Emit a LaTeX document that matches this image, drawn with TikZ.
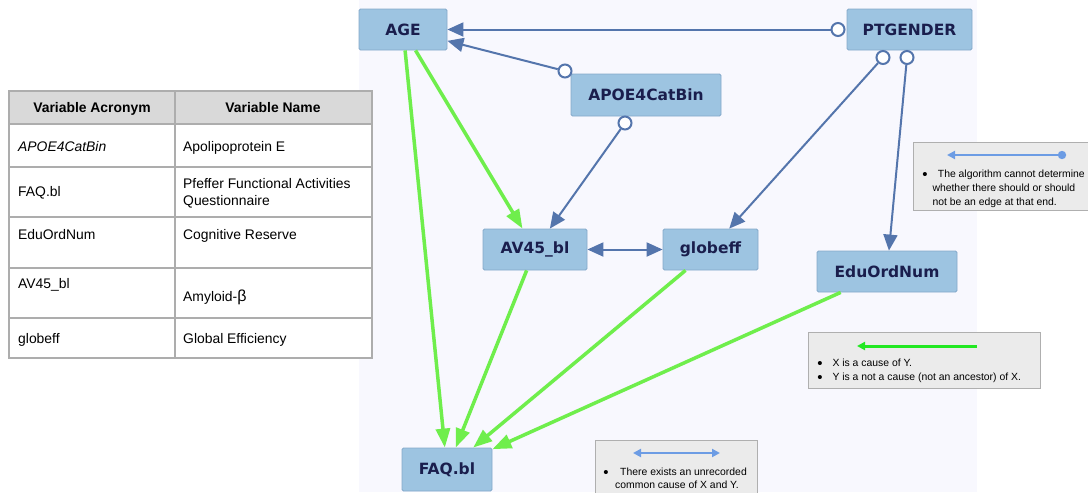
\documentclass[tikz,border=0pt]{standalone}
\usepackage{fontspec}
\setmainfont{Liberation Sans}
\newfontfamily\nodefont{DejaVu Sans}
\usetikzlibrary{arrows.meta}

\definecolor{panel}{HTML}{F8F8FE}
\definecolor{nodefill}{HTML}{9DC4E1}
\definecolor{nodeline}{HTML}{84A9CA}
\definecolor{nodetext}{HTML}{1A1E4D}
\definecolor{edgeblue}{HTML}{5475AC}
\definecolor{edgegreen}{HTML}{6FEE4C}
\definecolor{legblue}{HTML}{6C9CE4}
\definecolor{leggreen}{HTML}{22E822}
\definecolor{legfill}{HTML}{EBEBEB}
\definecolor{legline}{HTML}{AFAFAF}
\definecolor{tabline}{HTML}{ADADAD}
\definecolor{tabhead}{HTML}{D9D9D9}

\tikzset{
  var/.style={draw=nodeline, line width=0.8pt, fill=nodefill, rounded corners=1.5pt,
    inner sep=0pt, minimum height=41pt, text=nodetext,
    font=\nodefont\bfseries\fontsize{15.5}{18}\selectfont},
  oc/.style={circle, draw=edgeblue, line width=2pt, fill=white, minimum size=13pt, inner sep=0pt},
  bedge/.style={draw=edgeblue, line width=2pt, -{Triangle[length=16pt,width=14pt]}},
  bboth/.style={draw=edgeblue, line width=2pt, {Triangle[length=16pt,width=14pt]}-{Triangle[length=16pt,width=14pt]}},
  gedge/.style={draw=edgegreen, line width=3.5pt, -{Triangle[length=19pt,width=14pt]}},
  tabtxt/.style={inner sep=0pt, font=\fontsize{13.9}{16}\selectfont},
  tabhd/.style={inner sep=0pt, anchor=base, font=\bfseries\fontsize{13.9}{16}\selectfont},
  legbox/.style={draw=legline, line width=1pt, fill=legfill},
  legtxt/.style={inner sep=0pt, anchor=base west, font=\fontsize{10.4}{13}\selectfont},
  legdot/.style={inner sep=0pt, anchor=base, font=\fontsize{15}{13}\selectfont},
}

\begin{document}
\begin{tikzpicture}[x=1pt,y=-1pt]
\useasboundingbox (0,0) rectangle (1088,493);
\fill[white] (0,0) rectangle (1088,493);

% graph panel
\fill[panel] (359,0) rectangle (977,492);

% variable table
\fill[tabhead] (9,91) rectangle (372,124);
\fill[white] (9,124) rectangle (372,358);
\begin{scope}[draw=tabline, line width=1.2pt]
  \draw (9,91) rectangle (372,358);
  \draw (175,91) -- (175,358);
  \foreach \yy in {124,167,217,268,318} \draw (9,\yy) -- (372,\yy);
\end{scope}
\node[tabhd] (h1) at (92,112) {Variable Acronym};
\node[tabhd] (h2) at (273,112) {Variable Name};
\node[tabtxt, anchor=base west] (a1) at (18,151) {\itshape APOE4CatBin};
\node[tabtxt, anchor=base west] (b1) at (183,151) {Apolipoprotein E};
\node[tabtxt, anchor=base west] (a2) at (18,196.7) {FAQ.bl};
\node[tabtxt, anchor=base west] (b2a) at (183,188.7) {Pfeffer Functional Activities};
\node[tabtxt, anchor=base west] (b2b) at (183,205) {Questionnaire};
\node[tabtxt, anchor=base west] (a3) at (18,239) {EduOrdNum};
\node[tabtxt, anchor=base west] (b3) at (183,239) {Cognitive Reserve};
\node[tabtxt, anchor=base west] (a4) at (18,288) {AV45\_bl};
\node[tabtxt, anchor=base west] (b4) at (183,301.7) {Amyloid-{\fontsize{16}{16}\selectfont β}};
\node[tabtxt, anchor=base west] (a5) at (18,343.3) {globeff};
\node[tabtxt, anchor=base west] (b5) at (183,343.3) {Global Efficiency};

% variables
\node[var, minimum width=88pt] (AGE) at (403,29.5) {AGE};
\node[var, minimum width=125pt] (PTG) at (909.5,29.5) {PTGENDER};
\node[var, minimum width=150pt, minimum height=42pt] (APOE) at (646,95) {APOE4CatBin};
\node[var, minimum width=104pt] (AV45) at (535,249.5) {AV45\_bl};
\node[var, minimum width=95pt] (GLOB) at (710.5,249.5) {globeff};
\node[var, minimum width=140pt] (EDU) at (887,271.5) {EduOrdNum};
\node[var, minimum width=90pt, minimum height=43pt] (FAQ) at (447,469.5) {FAQ.bl};

% green edges: direct causes
\draw[gedge] (AGE) -- (FAQ);
\draw[gedge] (AGE) -- (AV45);
\draw[gedge] (AV45) -- (FAQ);
\draw[gedge] (GLOB) -- (FAQ);
\draw[gedge] (EDU) -- (FAQ);

% circle end marks
\node[oc] (oPA) at (838,29.5) {};
\node[oc] (oAA) at (565,71) {};
\node[oc] (oAV) at (625,123) {};
\node[oc] (oPG) at (883,57.5) {};
\node[oc] (oPE) at (907,57.5) {};

% blue edges
\draw[bedge] (oPA) -- (AGE);
\draw[bedge] (oAA) -- (AGE);
\draw[bedge] (oAV) -- (AV45);
\draw[bedge] (oPG) -- (GLOB);
\draw[bedge] (oPE) -- (EDU);
\draw[bboth] (AV45) -- (GLOB);

% legend: circle end
\node[legbox, minimum width=175pt, minimum height=68pt, inner sep=0pt, anchor=north west] (L1) at (913,142) {};
\coordinate (l1a) at (1062,155);
\coordinate (l1b) at (947,155);
\draw[legblue, line width=2.5pt, -{Triangle[length=8pt,width=8pt]}] (l1a) -- (l1b);
\fill[legblue] (l1a) circle (4.2pt);
\node[legdot] (t1b) at (925,179) {\textbullet};
\node[legtxt] (t1a) at (937.7,177) {The algorithm cannot determine};
\node[legtxt] (t1c) at (932.3,191) {whether there should or should};
\node[legtxt] (t1d) at (932.3,205) {not be an edge at that end.};

% legend: direct cause
\node[legbox, minimum width=232pt, minimum height=56pt, inner sep=0pt, anchor=north west] (L2) at (808,332) {};
\coordinate (l2a) at (977,346);
\coordinate (l2b) at (857,346);
\draw[leggreen, line width=3pt, -{Triangle[length=8pt,width=8pt]}] (l2a) -- (l2b);
\node[legdot] (t2a) at (820,368) {\textbullet};
\node[legtxt] (t2b) at (832.3,366) {X is a cause of Y.};
\node[legdot] (t2c) at (820,382.7) {\textbullet};
\node[legtxt] (t2d) at (832.3,380.7) {Y is a not a cause (not an ancestor) of X.};

% legend: common cause
\node[legbox, minimum width=162pt, minimum height=60pt, inner sep=0pt, anchor=north west] (L3) at (595,440) {};
\coordinate (l3a) at (633,453);
\coordinate (l3b) at (720,453);
\draw[legblue, line width=2.5pt, {Triangle[length=8pt,width=8pt]}-{Triangle[length=8pt,width=8pt]}] (l3a) -- (l3b);
\node[legdot] (t3a) at (606,477.7) {\textbullet};
\node[legtxt] (t3b) at (620,475.7) {There exists an unrecorded};
\node[legtxt] (t3c) at (615,488.3) {common cause of X and Y.};
\end{tikzpicture}
\end{document}
